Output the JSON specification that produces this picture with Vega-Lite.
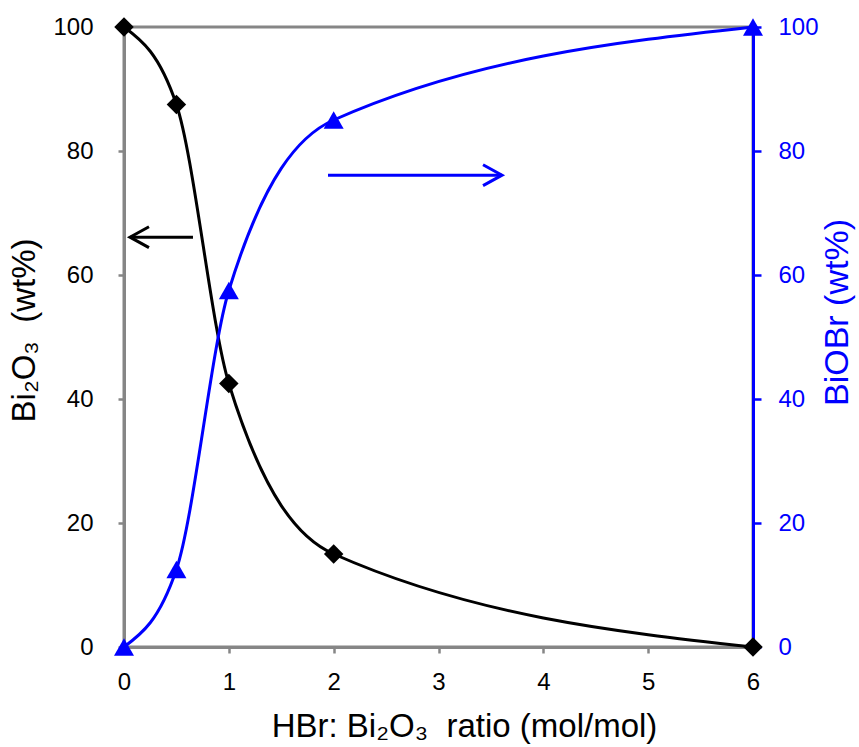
{
  "$schema": "https://vega.github.io/schema/vega-lite/v6.json",
  "width": 629,
  "height": 620,
  "autosize": {"type": "none"},
  "padding": {"left": 124, "top": 27, "right": 106, "bottom": 100},
  "background": "white",
  "config": {
    "view": {"stroke": "#868686", "strokeWidth": 3},
    "font": "Liberation Sans",
    "axis": {
      "labelFont": "Liberation Sans",
      "titleFont": "Liberation Sans",
      "labelFontSize": 24,
      "titleFontSize": 33,
      "titleFontWeight": "normal",
      "grid": false,
      "domainWidth": 3,
      "tickWidth": 2.5,
      "tickSize": 6,
      "labelFlush": false,
      "labelOverlap": false
    }
  },
  "datasets": {
    "bi2o3": [
      {"ratio": 0, "wt": 100},
      {"ratio": 0.5, "wt": 87.5},
      {"ratio": 1, "wt": 42.5},
      {"ratio": 2, "wt": 15},
      {"ratio": 6, "wt": 0}
    ],
    "biobr": [
      {"ratio": 0, "wt": 0},
      {"ratio": 0.5, "wt": 12.5},
      {"ratio": 1, "wt": 57.5},
      {"ratio": 2, "wt": 85},
      {"ratio": 6, "wt": 100}
    ],
    "arrowBlack": [{"ratio": 0.057, "ratio2": 0.658, "wt": 66.1}],
    "arrowBlue": [{"ratio": 3.606, "ratio2": 1.946, "wt": 76.1}]
  },
  "layer": [
    {
      "encoding": {
        "x": {
          "field": "ratio", "type": "quantitative",
          "scale": {"domain": [0, 6], "nice": false, "zero": false},
          "axis": {
            "values": [0, 1, 2, 3, 4, 5, 6],
            "title": "HBr: Bi₂O₃\u00a0\u00a0ratio (mol/mol)",
            "domainColor": "#868686", "tickColor": "#868686",
            "labelColor": "black", "titleColor": "black",
            "labelPadding": 17, "titlePadding": 16, "titleX": 340
          }
        },
        "y": {
          "field": "wt", "type": "quantitative",
          "scale": {"domain": [0, 100], "nice": false},
          "axis": {
            "orient": "left",
            "values": [0, 20, 40, 60, 80, 100],
            "title": "Bi₂O₃\u00a0\u00a0(wt%)",
            "domainColor": "#868686", "tickColor": "#868686",
            "labelColor": "black", "titleColor": "black",
            "labelPadding": 25, "titlePadding": 11, "titleY": 303
          }
        }
      },
      "layer": [
        {
          "data": {"name": "bi2o3"},
          "mark": {"type": "line", "color": "black", "strokeWidth": 3, "interpolate": "monotone"}
        },
        {
          "data": {"name": "bi2o3"},
          "mark": {"type": "point", "shape": "diamond", "filled": true, "color": "black", "size": 380, "opacity": 1}
        },
        {
          "data": {"name": "arrowBlack"},
          "mark": {"type": "rule", "color": "black", "strokeWidth": 3},
          "encoding": {"x2": {"field": "ratio2"}}
        },
        {
          "data": {"name": "arrowBlack"},
          "mark": {"type": "point", "shape": "M1,-0.55L0,0L1,0.55", "filled": false, "color": "black", "strokeWidth": 3, "size": 1444, "opacity": 1}
        }
      ]
    },
    {
      "encoding": {
        "x": {
          "field": "ratio", "type": "quantitative",
          "scale": {"domain": [0, 6], "nice": false, "zero": false},
          "axis": {
            "values": [0, 1, 2, 3, 4, 5, 6],
            "title": "HBr: Bi₂O₃\u00a0\u00a0ratio (mol/mol)",
            "domainColor": "#868686", "tickColor": "#868686",
            "labelColor": "black", "titleColor": "black",
            "labelPadding": 17, "titlePadding": 16, "titleX": 340
          }
        },
        "y": {
          "field": "wt", "type": "quantitative",
          "scale": {"domain": [0, 100], "nice": false},
          "axis": {
            "orient": "right",
            "values": [0, 20, 40, 60, 80, 100],
            "title": "BiOBr (wt%)",
            "domainColor": "#0000FF", "tickColor": "#0000FF", "tickSize": 8,
            "labelColor": "#0000FF", "titleColor": "#0000FF",
            "labelPadding": 17, "titlePadding": 2, "titleFontSize": 34,
            "titleAngle": 270, "titleBaseline": "top", "titleY": 285
          }
        }
      },
      "layer": [
        {
          "data": {"name": "biobr"},
          "mark": {"type": "line", "color": "#0000FF", "strokeWidth": 3, "interpolate": "monotone"}
        },
        {
          "data": {"name": "biobr"},
          "mark": {"type": "point", "shape": "triangle-up", "filled": true, "color": "#0000FF", "size": 400, "opacity": 1}
        },
        {
          "data": {"name": "arrowBlue"},
          "mark": {"type": "rule", "color": "#0000FF", "strokeWidth": 3},
          "encoding": {"x2": {"field": "ratio2"}}
        },
        {
          "data": {"name": "arrowBlue"},
          "mark": {"type": "point", "shape": "M-1,-0.55L0,0L-1,0.55", "filled": false, "color": "#0000FF", "strokeWidth": 3, "size": 1444, "opacity": 1}
        }
      ]
    }
  ],
  "resolve": {"scale": {"y": "independent"}}
}
